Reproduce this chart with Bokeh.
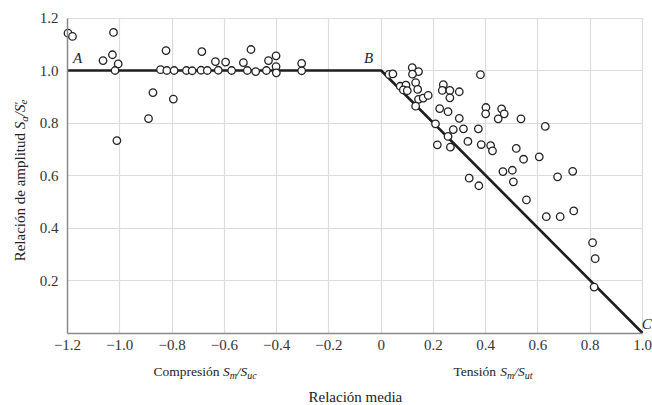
import math
from bokeh.plotting import figure
from bokeh.models import FixedTicker, Label, Range1d, ColumnDataSource
from bokeh.embed import file_html
from bokeh.resources import INLINE

# ---------------- data ----------------
comp_x = [-1.198, -1.181, -1.024, -1.028, -1.064, -1.006, -1.018, -1.011, -0.890, -0.873,
          -0.795, -0.823, -0.844, -0.820, -0.792, -0.745, -0.723, -0.689, -0.665, -0.686,
          -0.634, -0.623, -0.595, -0.572, -0.527, -0.498, -0.512, -0.480, -0.439, -0.431,
          -0.402, -0.402, -0.401, -0.304, -0.304]
comp_y = [1.142, 1.130, 1.145, 1.060, 1.038, 1.025, 1.000, 0.733, 0.817, 0.916,
          0.891, 1.076, 1.003, 1.000, 1.000, 1.000, 0.999, 1.001, 1.000, 1.072,
          1.034, 1.001, 1.032, 1.000, 1.030, 1.080, 1.000, 0.996, 1.000, 1.038,
          1.056, 1.015, 0.991, 1.027, 0.999]

tens_x = [0.030, 0.045, 0.119, 0.143, 0.120, 0.132, 0.073, 0.095, 0.085, 0.100,
          0.140, 0.143, 0.161, 0.180, 0.132, 0.238, 0.234, 0.263, 0.263, 0.299,
          0.380, 0.224, 0.256, 0.299, 0.208, 0.256, 0.265, 0.215, 0.276, 0.315,
          0.372, 0.332, 0.383, 0.419, 0.426, 0.401, 0.400, 0.461, 0.471, 0.448,
          0.535, 0.628, 0.517, 0.545, 0.605, 0.466, 0.502, 0.506, 0.337, 0.374,
          0.675, 0.733, 0.556, 0.632, 0.685, 0.737, 0.809, 0.819, 0.815]
tens_y = [0.985, 0.987, 1.011, 0.996, 0.986, 0.954, 0.940, 0.944, 0.926, 0.923,
          0.928, 0.890, 0.895, 0.905, 0.864, 0.946, 0.924, 0.924, 0.896, 0.919,
          0.984, 0.855, 0.843, 0.818, 0.797, 0.749, 0.708, 0.717, 0.775, 0.778,
          0.778, 0.730, 0.718, 0.714, 0.694, 0.859, 0.835, 0.854, 0.835, 0.816,
          0.816, 0.787, 0.703, 0.662, 0.671, 0.615, 0.620, 0.576, 0.590, 0.561,
          0.595, 0.616, 0.507, 0.443, 0.443, 0.465, 0.344, 0.283, 0.175]

curve_x = [-1.2, 0.0, 1.0]
curve_y = [1.0, 1.0, 0.0]

x_ticks = [-1.2, -1.0, -0.8, -0.6, -0.4, -0.2, 0.0, 0.2, 0.4, 0.6, 0.8, 1.0]
x_tick_labels = ["\u22121.2", "\u22121.0", "\u22120.8", "\u22120.6", "\u22120.4", "\u22120.2",
                 "0", "0.2", "0.4", "0.6", "0.8", "1.0"]
y_ticks = [0.2, 0.4, 0.6, 0.8, 1.0, 1.2]
y_tick_labels = ["0.2", "0.4", "0.6", "0.8", "1.0", "1.2"]

point_labels = ["A", "B", "C"]
point_label_x = [-1.161, -0.048, 1.016]
point_label_y = [1.048, 1.048, 0.036]

# ---------------- geometry ----------------
XMIN, XMAX, YMIN, YMAX = -1.2, 1.0, 0.0, 1.2
W, H = 652, 405
DL, DR, DT, DB = 67.0, 642.0, 17.5, 332.5   # data area inside the canvas (px)
SX = (DR - DL) / (XMAX - XMIN)
SY = (DB - DT) / (YMAX - YMIN)


def dx(px):
    return XMIN + (px - DL) / SX


def dy(py):
    return YMIN + (DB - py) / SY


FONT = "Liberation Serif"

p = figure(frame_width=W, frame_height=H,
           x_range=Range1d(dx(0), dx(W)), y_range=Range1d(dy(H), dy(0)),
           output_backend="svg", toolbar_location=None, min_border=0)
p.outline_line_color = None
p.background_fill_color = "white"

for ax in (p.xaxis[0], p.yaxis[0]):
    ax.major_tick_line_color = None
    ax.minor_tick_line_color = None
    ax.major_tick_out = 0
    ax.major_tick_in = 0
    ax.minor_tick_out = 0
    ax.minor_tick_in = 0
    ax.axis_line_color = "#8a8a8a"
    ax.axis_line_width = 1.5
    ax.major_label_text_font = FONT
    ax.major_label_text_font_size = "15px"
    ax.major_label_text_color = "#333333"

p.xaxis.fixed_location = YMIN
p.xaxis.bounds = (XMIN, XMAX)
p.xaxis.ticker = FixedTicker(ticks=x_ticks)
p.xaxis.major_label_overrides = {t: l for t, l in zip(x_ticks, x_tick_labels)}
p.xaxis.major_label_standoff = 7

p.yaxis.fixed_location = XMIN
p.yaxis.bounds = (YMIN, YMAX)
p.yaxis.ticker = FixedTicker(ticks=y_ticks)
p.yaxis.major_label_overrides = {t: l for t, l in zip(y_ticks, y_tick_labels)}
p.yaxis.major_label_standoff = 9

GRID_C = "#dcdcdc"
p.xgrid.ticker = FixedTicker(ticks=x_ticks[1:])
p.ygrid.ticker = FixedTicker(ticks=y_ticks)
try:
    p.xgrid.cross_bounds = (YMIN, YMAX)
    p.ygrid.cross_bounds = (XMIN, XMAX)
    p.xgrid.grid_line_color = GRID_C
    p.ygrid.grid_line_color = GRID_C
    p.xgrid.grid_line_width = 1.2
    p.ygrid.grid_line_width = 1.2
except Exception:
    p.xgrid.visible = False
    p.ygrid.visible = False
    gx = x_ticks[1:]
    p.segment(x0=gx, y0=[YMIN] * len(gx), x1=gx, y1=[YMAX] * len(gx),
              line_color=GRID_C, line_width=1.2, level="underlay")
    p.segment(x0=[XMIN] * len(y_ticks), y0=y_ticks, x1=[XMAX] * len(y_ticks), y1=y_ticks,
              line_color=GRID_C, line_width=1.2, level="underlay")

p.line(curve_x, curve_y, line_color="#1e1e1e", line_width=2.6)

src = ColumnDataSource(dict(x=comp_x + tens_x, y=comp_y + tens_y))
p.scatter("x", "y", source=src, size=7.5, marker="circle", fill_color="white",
          line_color="#222222", line_width=1.3)

for t, lx, ly in zip(point_labels, point_label_x, point_label_y):
    p.add_layout(Label(x=lx, y=ly, text=t, text_font=FONT, text_font_style="italic",
                       text_font_size="15px", text_color="#222233",
                       text_align="center", text_baseline="middle"))

# --------- composed labels with sub/superscripts ---------
REG = {' ': 250, 'C': 667, 'o': 500, 'm': 778, 'p': 500, 'r': 333, 'e': 444, 's': 389,
       'i': 278, 'ó': 500, 'n': 500, 'T': 611, 'R': 667, 'l': 278, 'a': 444, 'c': 444,
       'd': 500, 't': 278, 'u': 500, '/': 278}
ITA = {'S': 500, 'm': 722, 'u': 500, 'c': 444, 't': 278, 'a': 500, 'e': 444, '/': 278,
       '\u2032': 300}


def wid(s, style, size):
    tab = ITA if style == "italic" else REG
    return sum(tab.get(c, 500) for c in s) / 1000.0 * size


def horiz(pieces, x_left_px, base_px):
    cur = 0.0
    for text, style, size, drop, adv in pieces:
        p.add_layout(Label(x=dx(x_left_px + cur), y=dy(base_px + drop), text=text,
                           text_font=FONT, text_font_style=style,
                           text_font_size=f"{size}px", text_color="#222222",
                           text_align="left", text_baseline="alphabetic"))
        if adv:
            cur += wid(text, style, size)


horiz([("Compresión ", "normal", 13.5, 0, True), ("S", "italic", 13.5, 0, True),
       ("m", "italic", 10, 4, True), ("/S", "italic", 13.5, 0, True),
       ("uc", "italic", 10, 4, True)], 153, 371)
horiz([("Tensión ", "normal", 13.5, 0, True), ("S", "italic", 13.5, 0, True),
       ("m", "italic", 10, 4, True), ("/S", "italic", 13.5, 0, True),
       ("ut", "italic", 10, 4, True)], 453, 371)
horiz([("Relación media", "normal", 15, 0, True)], 308, 396)

# vertical y-axis title, reading bottom to top
ypieces = [("Relación de amplitud ", "normal", 15, 0, True), ("S", "italic", 15, 0, True),
           ("a", "italic", 11, 4, True), ("/S", "italic", 15, 0, True),
           ("\u2032", "normal", 13, -1, False), ("e", "italic", 11, 4, True)]
total = sum(wid(t, s, z) for t, s, z, d, a in ypieces if a)
base_x_px = 19
start_y_px = 180 + total / 2
cur = 0.0
for text, style, size, drop, adv in ypieces:
    p.add_layout(Label(x=dx(base_x_px + drop), y=dy(start_y_px - cur), text=text,
                       text_font=FONT, text_font_style=style,
                       text_font_size=f"{size}px", text_color="#222222", angle=math.pi / 2,
                       text_align="left", text_baseline="alphabetic"))
    if adv:
        cur += wid(text, style, size)

open("out.html", "w").write(file_html(p, INLINE))
